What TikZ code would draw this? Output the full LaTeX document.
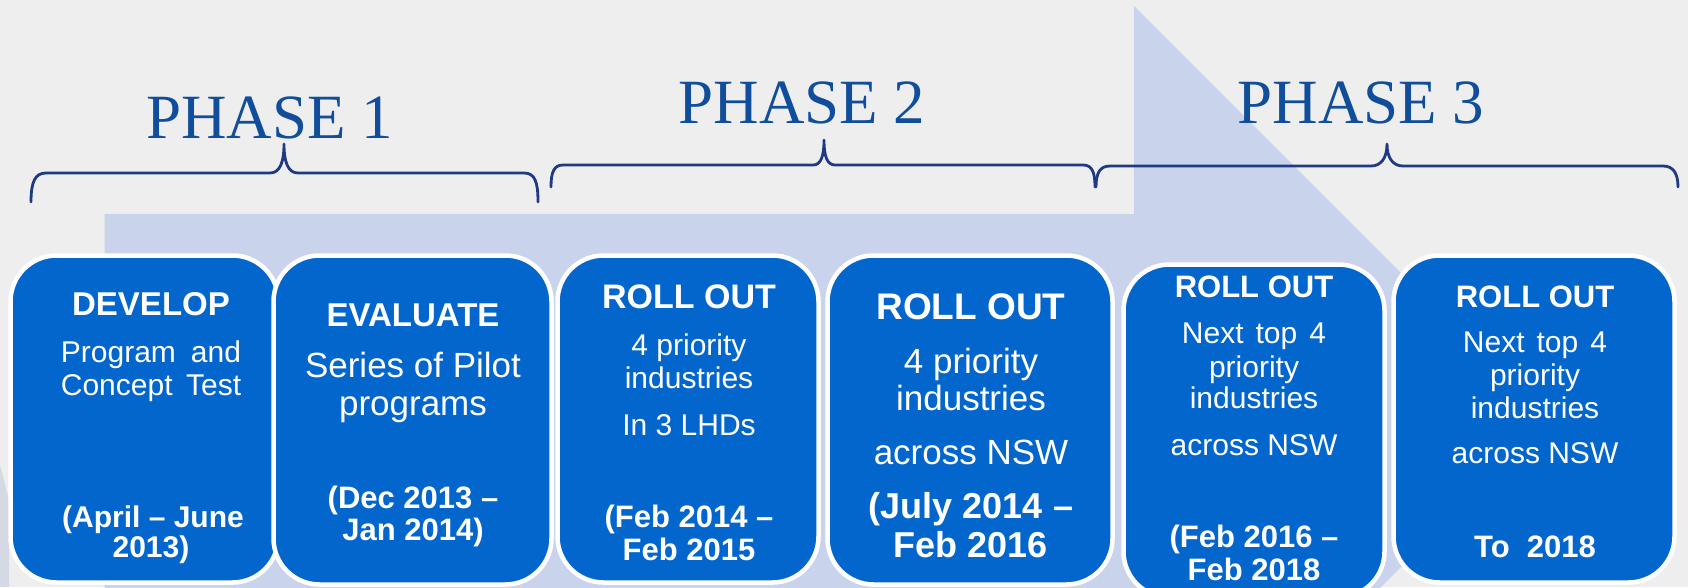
\documentclass[tikz,border=0pt]{standalone}
\usepackage{fontspec}
\setmainfont{Liberation Sans}
\newfontfamily\phasefont{Liberation Serif}
\definecolor{bggray}{RGB}{238,238,238}
\definecolor{arrowblue}{RGB}{202,211,236}
\definecolor{boxblue}{RGB}{3,102,204}
\definecolor{phaseblue}{RGB}{16,78,155}
\definecolor{bracenavy}{RGB}{30,58,130}
\definecolor{edgeshade}{RGB}{213,217,227}
\begin{document}
\begin{tikzpicture}[x=1pt,y=-1pt,
  boxst/.style={draw=white, line width=4.5pt, fill=boxblue, rounded corners=46pt, inner sep=0pt},
  ln/.style={anchor=base, inner sep=0pt, text=white, font=\fontsize{#1}{#1}\selectfont},
  lb/.style={anchor=base, inner sep=0pt, text=white, font=\fontsize{#1}{#1}\selectfont\bfseries},
  phase/.style={anchor=base, inner sep=0pt, text=phaseblue, font=\fontsize{63}{63}\selectfont\phasefont},
  bracest/.style={draw=bracenavy, line width=2.8pt, line cap=round, line join=round}]
\useasboundingbox (0,0) rectangle (1688,587);
\clip (0,0) rectangle (1688,587);
\fill[bggray] (0,0) rectangle (1688,587);
% faint shading at the left edge
\fill[edgeshade] (0,465) -- (9,500) -- (9,587) -- (0,587) -- cycle;
% background arrow
\fill[arrowblue] (104.5,214) -- (1134,214) -- (1134,6) -- (1548,420) -- (1134,834) -- (1134,626) -- (104.5,626) -- cycle;
% phase titles
\node[phase] (p1) at (269.5,138) {PHASE 1};
\node[phase] (p2) at (802,123) {PHASE 2};
\node[phase] (p3) at (1361,123) {PHASE 3};
% braces
\draw[bracest] (31,202) .. controls (31,182) and (35,173) .. (46,173) -- (270,173)
  .. controls (280,173) and (284,162) .. (284,144)
  .. controls (284,162) and (288,173) .. (298,173) -- (524,173)
  .. controls (535,173) and (538,182) .. (538,202);
\draw[bracest] (551,187) .. controls (551,172) and (554,165) .. (563,165) -- (813,165)
  .. controls (821,165) and (824,156) .. (824,140)
  .. controls (824,156) and (827,165) .. (835,165) -- (1083,165)
  .. controls (1092,165) and (1095,172) .. (1095,187);
\draw[bracest] (1096,187) .. controls (1096,173) and (1100,166) .. (1110,166) -- (1371,166)
  .. controls (1381,166) and (1387,158) .. (1387,144)
  .. controls (1387,158) and (1393,166) .. (1403,166) -- (1663,166)
  .. controls (1673,166) and (1678,173) .. (1678,187);
% boxes
\node[boxst, minimum width=268pt, minimum height=327pt] (b1) at (144.5,419) {};
\node[boxst, minimum width=278pt, minimum height=329pt] (b2) at (412.5,420) {};
\node[boxst, minimum width=261pt, minimum height=327pt] (b3) at (688,419) {};
\node[boxst, minimum width=285pt, minimum height=329pt] (b4) at (970,420) {};
\node[boxst, minimum width=261pt, minimum height=333pt] (b5) at (1254,431) {};
\node[boxst, minimum width=281pt, minimum height=327pt] (b6) at (1534,419) {};
% box 1
\node[lb=33] (b1a) at (151,315) {DEVELOP};
\node[ln=30] (b1b) at (151,362) {Program\hspace{0.5em}and};
\node[ln=30] (b1c) at (151,395) {Concept\hspace{0.45em}Test};
\node[lb=30] (b1d) at (153,527) {(April – June};
\node[lb=30] (b1e) at (151,557) {2013)};
% box 2
\node[lb=33] (b2a) at (413,326) {EVALUATE};
\node[ln=35] (b2b) at (413,377) {Series of Pilot};
\node[ln=35] (b2c) at (413,415) {programs};
\node[lb=31] (b2d) at (413,508) {(Dec 2013 –};
\node[lb=31] (b2e) at (413,540) {Jan 2014)};
% box 3
\node[lb=34] (b3a) at (689,308) {ROLL OUT};
\node[ln=30] (b3b) at (689,355) {4 priority};
\node[ln=30] (b3c) at (689,388) {industries};
\node[ln=30] (b3d) at (689,435) {In 3 LHDs};
\node[lb=31] (b3e) at (689,527) {(Feb 2014 –};
\node[lb=31] (b3f) at (689,560) {Feb 2015};
% box 4
\node[lb=37] (b4a) at (971,319) {ROLL OUT};
\node[ln=35] (b4b) at (971,373) {4 priority};
\node[ln=35] (b4c) at (971,410) {industries};
\node[ln=35] (b4d) at (971,464) {across NSW};
\node[lb=36] (b4e) at (971,518) {(July 2014 –};
\node[lb=36] (b4f) at (971,557) {Feb 2016};
% box 5
\node[lb=31] (b5a) at (1254,297) {ROLL OUT};
\node[ln=30] (b5b) at (1254,343) {Next\hspace{0.4em}top\hspace{0.4em}4};
\node[ln=30] (b5c) at (1254,377) {priority};
\node[ln=30] (b5d) at (1254,408) {industries};
\node[ln=30] (b5e) at (1254,455) {across NSW};
\node[lb=31] (b5f) at (1254,547) {(Feb 2016 –};
\node[lb=31] (b5g) at (1254,580) {Feb 2018};
% box 6
\node[lb=31] (b6a) at (1535,307) {ROLL OUT};
\node[ln=30] (b6b) at (1535,352) {Next\hspace{0.4em}top\hspace{0.4em}4};
\node[ln=30] (b6c) at (1535,385) {priority};
\node[ln=30] (b6d) at (1535,418) {industries};
\node[ln=30] (b6e) at (1535,463) {across NSW};
\node[lb=31] (b6f) at (1535,557) {To\hspace{0.55em}2018};
\end{tikzpicture}
\end{document}
